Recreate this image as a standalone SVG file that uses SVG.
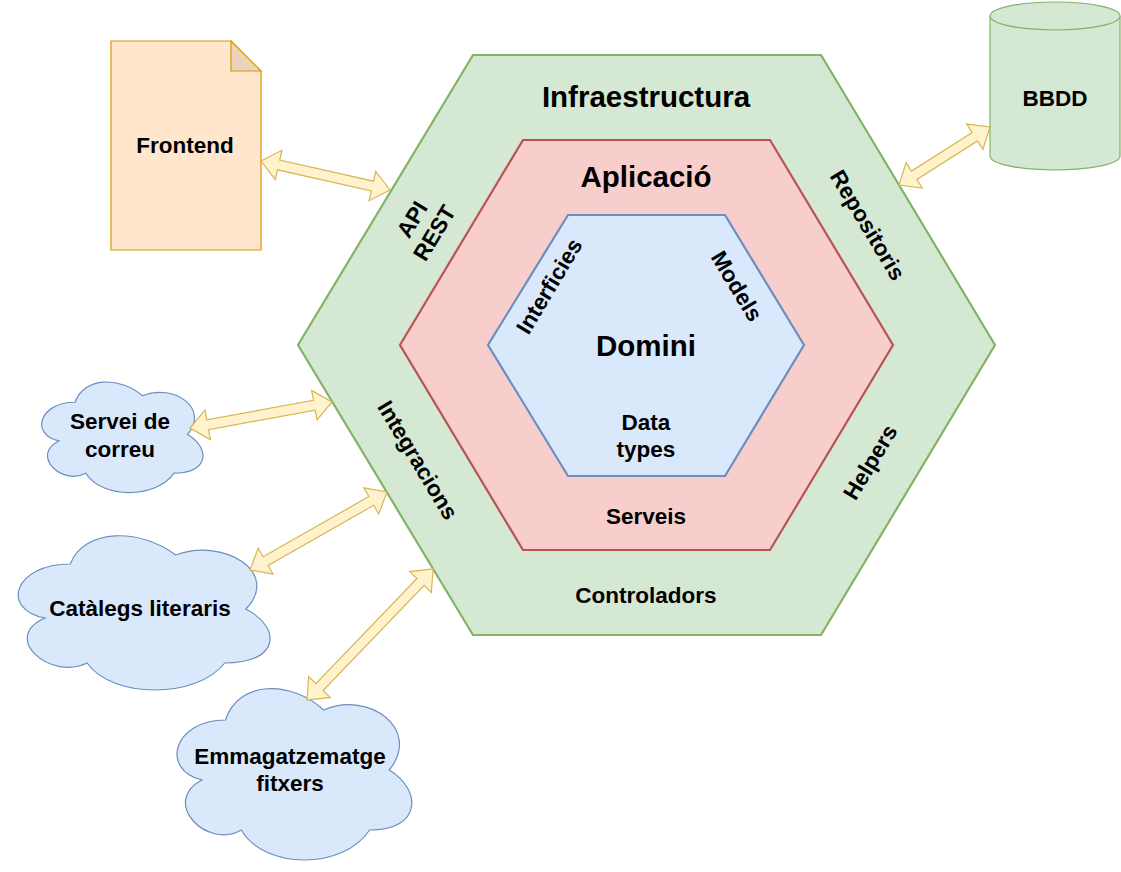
<svg xmlns="http://www.w3.org/2000/svg" width="1121" height="872" viewBox="0 0 1121 872">
<style>
text{font-family:"Liberation Sans",Arial,sans-serif;font-weight:bold;fill:#000;text-anchor:middle}
.big{font-size:29.5px}
.lbl{font-size:22.5px}
.green{fill:#d5e8d4;stroke:#82b366;stroke-width:2.2}
.red{fill:#f8cecc;stroke:#b85450;stroke-width:2.2}
.blue{fill:#dae8fc;stroke:#6c8ebf;stroke-width:2.2}
.cloud{fill:#dae8fc;stroke:#6c8ebf;stroke-width:1.2}
.db{fill:#d5e8d4;stroke:#82b366;stroke-width:1.2}
.doc{fill:#ffe6cc;stroke:#d79b00;stroke-width:1.2}
.fold{fill:#ecd3bb;stroke:#d79b00;stroke-width:1.2}
.arrow{fill:#fff2cc;stroke:#d6b656;stroke-width:1.2;stroke-linejoin:miter}
</style>
<rect width="1121" height="872" fill="#ffffff"/>

<g id="infraestructura">
<polygon class="green" points="473,55 821,55 995,345 821,635 473,635 298,345"/>
<text class="big" x="646" y="107">Infraestructura</text>
<text class="lbl" transform="translate(423,226) rotate(-59)"><tspan x="0" y="-5">API</tspan><tspan x="0" y="21">REST</tspan></text>
<text class="lbl" transform="translate(868,225) rotate(59)" x="0" y="8">Repositoris</text>
<text class="lbl" transform="translate(418,460) rotate(59)" x="0" y="8">Integracions</text>
<text class="lbl" transform="translate(870,462) rotate(-59)" x="0" y="8">Helpers</text>
<text class="lbl" x="646" y="603">Controladors</text>
</g>

<g id="aplicacio">
<polygon class="red" points="523,140 770,140 893,345 770,550 523,550 400,345"/>
<text class="big" x="646" y="187">Aplicació</text>
<text class="lbl" x="646" y="524">Serveis</text>
</g>

<g id="domini">
<polygon class="blue" points="568,215 725,215 804,345 725,476 568,476 488,345"/>
<text class="big" x="646" y="356">Domini</text>
<text class="lbl" transform="translate(549,286) rotate(-59)" x="0" y="8">Interficies</text>
<text class="lbl" transform="translate(737,286) rotate(59)" x="0" y="8">Models</text>
<text class="lbl" x="646" y="429.5">Data</text>
<text class="lbl" x="646" y="456.5">types</text>
</g>

<g id="frontend">
<path class="doc" d="M111,41 H231 L261,71 V250 H111 Z"/>
<path class="fold" d="M231,41 V71 H261 Z"/>
<text class="lbl" x="185" y="153">Frontend</text>
</g>

<g id="bbdd">
<path class="db" d="M990,16 A65,14 0 0 1 1120,16 V156 A65,14 0 0 1 990,156 Z"/>
<path class="db" fill="none" d="M990,16 A65,14 0 0 0 1120,16"/>
<text class="lbl" x="1055" y="106">BBDD</text>
</g>

<g id="servei-correu">
<path class="cloud" d="M75,402.25 C39,402.25 30,434.5 58.8,440.95 C30,455.14 62.4,486.1 85.8,473.2 C102,499 156,499 174,473.2 C210,473.2 210,447.4 187.5,434.5 C210,408.7 174,382.9 142.5,395.8 C120,376.45 84,376.45 75,402.25 Z"/>
<text class="lbl" x="120" y="429">Servei de</text>
<text class="lbl" x="120" y="456.5">correu</text>
</g>

<g id="catalegs">
<path class="cloud" d="M70.25,564 C14.05,564 0,609 44.96,618 C0,637.8 50.58,681 87.11,663 C112.4,699 196.7,699 224.8,663 C281,663 281,627 245.88,609 C281,573 224.8,537 175.63,555 C140.5,528 84.3,528 70.25,564 Z"/>
<text class="lbl" x="140" y="616">Catàlegs literaris</text>
</g>

<g id="emmagatzematge">
<path class="cloud" d="M225.5,720 C173.1,720 160,770 201.92,780 C160,802 207.16,850 241.22,830 C264.8,870 343.4,870 369.6,830 C422,830 422,790 389.25,770 C422,730 369.6,690 323.75,710 C291,680 238.6,680 225.5,720 Z"/>
<text class="lbl" x="290" y="763.5">Emmagatzematge</text>
<text class="lbl" x="290" y="791">fitxers</text>
</g>

<g id="connectors">
<polygon class="arrow" transform="translate(261,161) rotate(12.67)" points="0,0 18,-15 18,-5 114.2,-5 114.2,-15 132.2,0 114.2,15 114.2,5 18,5 18,15"/>
<polygon class="arrow" transform="translate(899,185) rotate(-32.5)" points="0,0 18,-15 18,-5 89.9,-5 89.9,-15 107.9,0 89.9,15 89.9,5 18,5 18,15"/>
<polygon class="arrow" transform="translate(190,428) rotate(-10.4)" points="0,0 18,-15 18,-5 126.4,-5 126.4,-15 144.4,0 126.4,15 126.4,5 18,5 18,15"/>
<polygon class="arrow" transform="translate(250,570) rotate(-29.66)" points="0,0 18,-15 18,-5 139.6,-5 139.6,-15 157.6,0 139.6,15 139.6,5 18,5 18,15"/>
<polygon class="arrow" transform="translate(307,700) rotate(-46.1)" points="0,0 18,-15 18,-5 163.8,-5 163.8,-15 181.8,0 163.8,15 163.8,5 18,5 18,15"/>
</g>
</svg>
